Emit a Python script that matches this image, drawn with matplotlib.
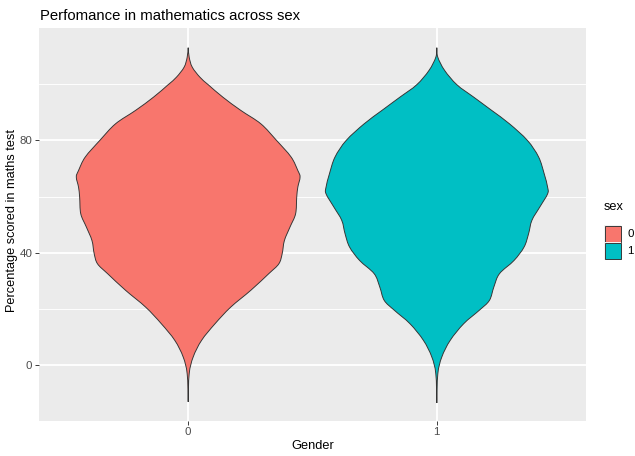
import numpy as np
import matplotlib
matplotlib.use("Agg")
import matplotlib.pyplot as plt
from matplotlib.patches import Rectangle, PathPatch
from matplotlib.path import Path

# Estimated score densities (relative) along the score axis for each sex group
scores_0 = [113.0, 109.6, 106.1, 102.5, 99.8, 95.4, 90.7, 85.9, 80.0, 74.1, 69.3,
            67.0, 63.4, 59.8, 53.9, 49.2, 44.4, 39.7, 36.1, 32.6, 26.7, 20.7,
            14.8, 8.9, 3.0, -3.0, -13.0]
density_0 = [0.0, 0.009, 0.036, 0.105, 0.18, 0.31, 0.47, 0.65, 0.79, 0.92, 0.98,
             1.0, 0.98, 0.97, 0.96, 0.91, 0.86, 0.84, 0.81, 0.72, 0.56, 0.38,
             0.24, 0.12, 0.045, 0.009, 0.0]

scores_1 = [113.0, 109.6, 104.9, 99.8, 95.4, 90.7, 85.9, 80.0, 74.1, 68.1, 63.4,
            61.0, 56.3, 51.6, 46.8, 42.1, 37.3, 32.6, 27.9, 23.1, 19.6, 14.8,
            8.9, 3.0, -3.0, -13.4]
density_1 = [0.0, 0.009, 0.07, 0.18, 0.33, 0.49, 0.65, 0.81, 0.91, 0.96, 0.99,
             0.99, 0.92, 0.85, 0.82, 0.78, 0.69, 0.56, 0.51, 0.47, 0.38, 0.24,
             0.12, 0.045, 0.009, 0.0]

groups = ["0", "1"]
fills = ["#F8766D", "#00BFC4"]
y_ticks = [0, 40, 80]
y_minor = [20, 60, 100]

W, H, DPI = 635, 456, 96
fig = plt.figure(figsize=(W / DPI, H / DPI), dpi=DPI)
fig.patch.set_facecolor("white")
font = ["Liberation Sans", "DejaVu Sans"]


def fx(px):
    return px / W


def fy(py):
    return 1 - py / H


def smooth_segments(pts):
    """Catmull-Rom style Bezier control points through a sequence of points."""
    pts = np.asarray(pts, dtype=float)
    n = len(pts)
    verts, codes = [], []
    for k in range(n - 1):
        p0 = pts[max(k - 1, 0)]
        p1 = pts[k]
        p2 = pts[k + 1]
        p3 = pts[min(k + 2, n - 1)]
        c1 = p1 + (p2 - p0) / 6.0
        c2 = p2 - (p3 - p1) / 6.0
        verts += [tuple(c1), tuple(c2), tuple(p2)]
        codes += [Path.CURVE4] * 3
    return verts, codes


ax = fig.add_axes([fx(39), fy(420.7), fx(586) - fx(39), fy(28.3) - fy(420.7)])
ax.set_facecolor("#EBEBEB")
for s in ax.spines.values():
    s.set_visible(False)

ax.set_xlim(-0.6, 1.6)
ax.set_ylim(-19.7, 119.9)

# grid
for v in y_minor:
    ax.axhline(v, color="white", lw=0.7, zorder=0)
for v in y_ticks:
    ax.axhline(v, color="white", lw=1.4, zorder=0)
for i in range(len(groups)):
    ax.axvline(i, color="white", lw=1.4, zorder=0)

# violins, widths scaled to a common maximum half-width of 0.45
dmax = max(max(density_0), max(density_1))
for i, (ys, ds) in enumerate([(scores_0, density_0), (scores_1, density_1)]):
    ys = np.asarray(ys, dtype=float)
    hw = 0.45 * np.asarray(ds, dtype=float) / dmax
    right = np.column_stack([i + hw, ys])            # top -> bottom
    left = np.column_stack([i - hw, ys])[::-1]       # bottom -> top
    v1, c1 = smooth_segments(right)
    v2, c2 = smooth_segments(left)
    verts = [tuple(right[0])] + v1 + [tuple(left[0])] + v2 + [tuple(right[0])]
    codes = [Path.MOVETO] + c1 + [Path.LINETO] + c2 + [Path.CLOSEPOLY]
    ax.add_patch(PathPatch(Path(verts, codes), facecolor=fills[i],
                           edgecolor="#333333", lw=0.7, zorder=2))

ax.set_xticks(range(len(groups)))
ax.set_xticklabels(groups)
ax.set_yticks(y_ticks)
ax.tick_params(axis="both", length=2.75, width=0.7, color="#333333",
               labelcolor="#4D4D4D", labelsize=8.6, pad=2.2)
for lab in ax.get_xticklabels() + ax.get_yticklabels():
    lab.set_family(font)

fig.text(fx(39.5), fy(19.5), "Perfomance in mathematics across sex", fontsize=11.2,
         family=font, ha="left", va="baseline", color="black")
fig.text(fx(312.5), fy(449), "Gender", fontsize=9.6, family=font,
         ha="center", va="baseline", color="black")
fig.text(fx(12), fy(221), "Percentage scored in maths test", fontsize=9.6,
         family=font, rotation=90, ha="center", va="center", color="black")

# legend
fig.text(fx(604), fy(210), "sex", fontsize=9.6, family=font, ha="left",
         va="baseline", color="black")
key = 17.3
top = 225.0
for i, g in enumerate(groups):
    y0 = top + i * key
    fig.add_artist(Rectangle((fx(604), fy(y0 + key)), fx(key), fy(0) - fy(key),
                             transform=fig.transFigure, facecolor="#F2F2F2",
                             edgecolor="none"))
    fig.add_artist(Rectangle((fx(604.5), fy(y0 + key - 0.5)), fx(key - 1),
                             fy(0) - fy(key - 1), transform=fig.transFigure,
                             facecolor=fills[i], edgecolor="#333333", lw=0.7))
    fig.text(fx(627.5), fy(y0 + key / 2), g, fontsize=8.6, family=font,
             ha="left", va="center", color="black")

fig.savefig("out.png", dpi=DPI)
